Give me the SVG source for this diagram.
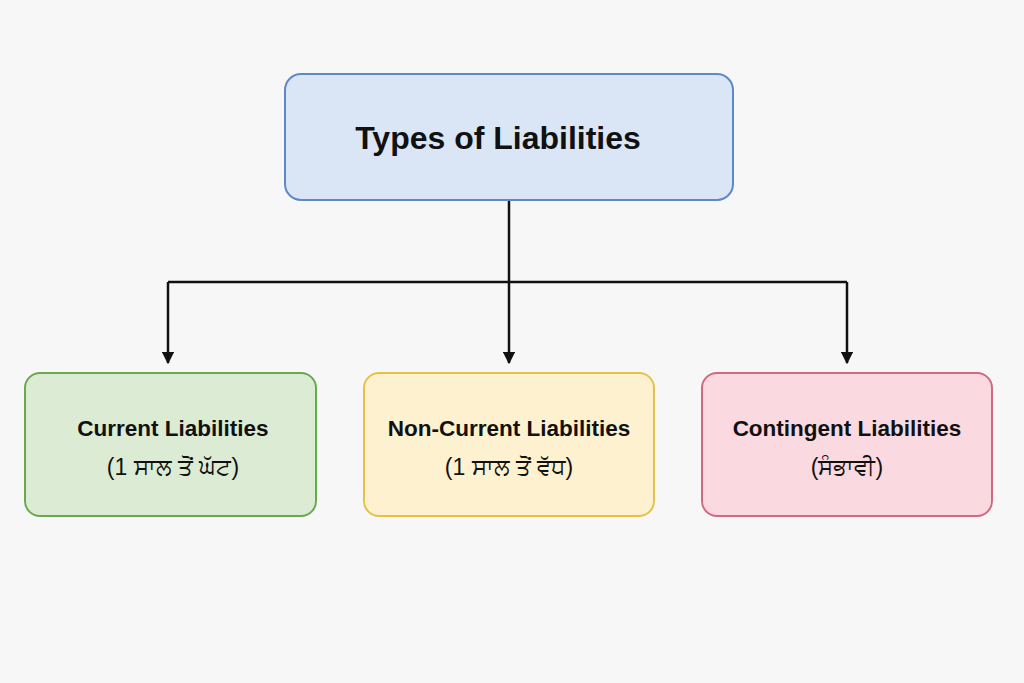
<svg xmlns="http://www.w3.org/2000/svg" width="1024" height="683" viewBox="0 0 1024 683">
<defs>
<style>
text{font-family:"Liberation Sans","Noto Sans",sans-serif;fill:#111;text-anchor:middle}
.t{font-size:32px;font-weight:bold}
.l{font-size:22.5px;font-weight:bold}
.s{font-size:23px}
.c{fill:none;stroke:#111;stroke-width:2.5}
</style>
<marker id="a" viewBox="0 0 10 10" refX="9" refY="5" markerWidth="5" markerHeight="5" orient="auto"><path d="M0 0L10 5L0 10z" fill="#111"/></marker>
</defs>
<rect width="1024" height="683" fill="#f7f7f7"/>
<g id="connectors">
<path class="c" d="M509 200V280"/>
<path class="c" d="M168 282V363" marker-end="url(#a)"/>
<path class="c" d="M509 280V363" marker-end="url(#a)"/>
<path class="c" d="M847 282V363" marker-end="url(#a)"/>
<path class="c" d="M168 282H847"/>
</g>
<g id="root"><rect x="285" y="74" width="448" height="126" rx="16" fill="#dae6f6" stroke="#5f88c6" stroke-width="2"/><text class="t" x="498" y="149">Types of Liabilities</text></g>
<g id="current"><rect x="25" y="373" width="291" height="143" rx="15" fill="#dcebd4" stroke="#6aa84f" stroke-width="2"/><text class="l" x="173" y="436">Current Liabilities</text><text class="s" x="173" y="475">(1 ਸਾਲ ਤੋਂ ਘੱਟ)</text></g>
<g id="noncurrent"><rect x="364" y="373" width="290" height="143" rx="15" fill="#fdf1cf" stroke="#e6c14a" stroke-width="2"/><text class="l" x="509" y="436">Non-Current Liabilities</text><text class="s" x="509" y="475">(1 ਸਾਲ ਤੋਂ ਵੱਧ)</text></g>
<g id="contingent"><rect x="702" y="373" width="290" height="143" rx="15" fill="#fbd9e0" stroke="#d06a80" stroke-width="2"/><text class="l" x="847" y="436">Contingent Liabilities</text><text class="s" x="847" y="475">(ਸੰਭਾਵੀ)</text></g>
</svg>
